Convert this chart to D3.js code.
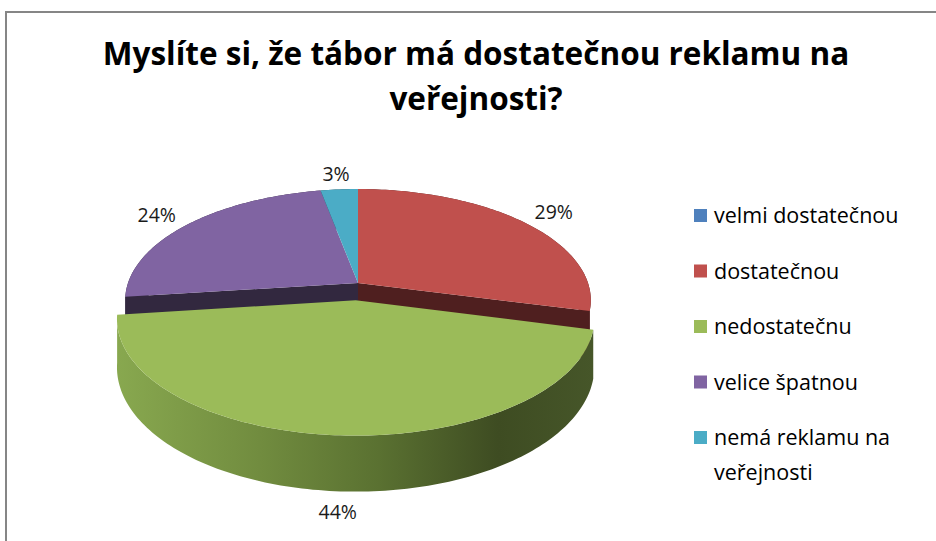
<!DOCTYPE html>
<html>
<head>
<meta charset="utf-8">
<script src="https://cdn.jsdelivr.net/npm/d3@7/dist/d3.min.js"></script>
<style>
  body { margin: 0; background: #fff; }
  svg { display: block; }
</style>
</head>
<body>
<div id="chart"></div>
<script>
// data
const categories = ['velmi dostatečnou', 'dostatečnou', 'nedostatečnu', 'velice špatnou', 'nemá reklamu na veřejnosti'];
const legendLines = [['velmi dostatečnou'], ['dostatečnou'], ['nedostatečnu'], ['velice špatnou'], ['nemá reklamu na', 'veřejnosti']];
const values = [0, 29, 44, 24, 3];
const titleLines = ['Myslíte si, že tábor má dostatečnou reklamu na', 'veřejnosti?'];

const colors = ['#4f81bd', '#c0504d', '#9bbb59', '#8064a2', '#4bacc6'];
const faceColors = ['#2a4566', '#4f1f1f', '#3f4c24', '#32283f', '#1f4a56'];
const explodedIndex = 2;

const W = 936, H = 541;
// pie geometry (simple perspective projection of a tilted disk)
const cx = 358, cy = 283;
const A = 230, B = 108.5, k = 0.155, depth = 46, explode = 0.155;

const svg = d3.select('#chart').append('svg')
    .attr('width', W)
    .attr('height', H);

const defs = svg.append('defs');

svg.append('rect')
    .attr('x', 6).attr('y', 12)
    .attr('width', 1200).attr('height', 1200)
    .attr('fill', '#fff')
    .attr('stroke', '#868686')
    .attr('stroke-width', 2);

// title
svg.append('g').selectAll('text')
    .data(titleLines)
    .enter().append('text')
    .attr('x', 476)
    .attr('y', (d, i) => 65 + i * 45)
    .attr('text-anchor', 'middle')
    .attr('font-family', '"Open Sans", sans-serif')
    .attr('font-weight', 700)
    .attr('font-size', 31.5)
    .attr('fill', '#000')
    .text(d => d);

function proj(a, r, off, h) {
    const u = off.u + r * Math.sin(a);
    const v = off.v - r * Math.cos(a);
    const s = 1 / (1 - k * v);
    return [cx + A * u * s, cy + B * v * s + h * depth * s];
}

const line = d3.line().curve(d3.curveLinearClosed);

const arcs = d3.pie().sort(null).value(d => d).startAngle(0).endAngle(2 * Math.PI)(values)
    .map((d, i) => {
        const mid = (d.startAngle + d.endAngle) / 2;
        const e = i === explodedIndex ? explode : 0;
        d.off = { u: e * Math.sin(mid), v: -e * Math.cos(mid) };
        d.mid = mid;
        d.index = i;
        return d;
    })
    .filter(d => d.value > 0);

function arcPoints(d, h) {
    const n = Math.max(2, Math.ceil((d.endAngle - d.startAngle) / 0.02));
    return d3.range(n + 1).map(j => proj(d.startAngle + (d.endAngle - d.startAngle) * j / n, 1, d.off, h));
}

function topPath(d) {
    return line([proj(0, 0, d.off, 0), ...arcPoints(d, 0)]);
}

function wallPath(d) {
    return line([...arcPoints(d, 0), ...arcPoints(d, 1).reverse()]);
}

function radialPath(d, a) {
    return line([proj(0, 0, d.off, 0), proj(a, 1, d.off, 0), proj(a, 1, d.off, 1), proj(0, 0, d.off, 1)]);
}

// a cut face only shows when it points towards the viewer
const facesFront = a => -Math.cos(a) > 0;

// gradient for the front wall of the pulled-out slice
const ex = arcs.find(d => d.index === explodedIndex);
const exPts = arcPoints(ex, 1);
const grad = defs.append('linearGradient')
    .attr('id', 'wallGrad')
    .attr('gradientUnits', 'userSpaceOnUse')
    .attr('x1', d3.min(exPts, p => p[0])).attr('y1', 0)
    .attr('x2', d3.max(exPts, p => p[0])).attr('y2', 0);
[[0, '#88a84f'], [0.3, '#718c3f'], [0.55, '#5a7131'], [0.8, '#3e4c22'], [1, '#465629']]
    .forEach(s => grad.append('stop').attr('offset', s[0]).attr('stop-color', s[1]));

const pieG = svg.append('g');
const back = arcs.filter(d => d.index !== explodedIndex);

// walls of the slices that stay in place
back.forEach(d => {
    pieG.append('path').attr('d', wallPath(d)).attr('fill', faceColors[d.index]);
});
back.forEach(d => {
    [d.startAngle, d.endAngle].filter(facesFront).forEach(a => {
        pieG.append('path').attr('d', radialPath(d, a)).attr('fill', faceColors[d.index]);
    });
});
back.forEach(d => {
    pieG.append('path').attr('d', topPath(d)).attr('fill', colors[d.index]);
});

// pulled-out slice drawn last
pieG.append('path').attr('d', wallPath(ex)).attr('fill', 'url(#wallGrad)');
pieG.append('path').attr('d', topPath(ex)).attr('fill', colors[ex.index]);

// percentage labels
const total = d3.sum(values);
svg.append('g').selectAll('text')
    .data(arcs)
    .enter().append('text')
    .attr('transform', d => {
        const front = -Math.cos(d.mid) > 0.5;
        const p = front ? proj(d.mid, 1, d.off, 1) : proj(d.mid, 1.2, { u: 0, v: 0 }, 0);
        return `translate(${p[0]},${p[1] + (front ? 20 : 0)})`;
    })
    .attr('text-anchor', 'middle')
    .attr('dominant-baseline', 'central')
    .attr('font-family', '"Open Sans", sans-serif')
    .attr('font-size', 19.5)
    .attr('fill', '#1a1a1a')
    .text(d => d3.format('.0%')(d.value / total));

// legend
const legend = svg.append('g').selectAll('g')
    .data(categories)
    .enter().append('g')
    .attr('transform', (d, i) => `translate(694,${216 + i * 55.5})`);

legend.append('rect')
    .attr('x', 0).attr('y', -7)
    .attr('width', 13).attr('height', 13)
    .attr('fill', (d, i) => colors[i]);

legend.append('text')
    .attr('x', 20)
    .attr('y', 7)
    .attr('font-family', '"Open Sans", sans-serif')
    .attr('font-size', 21.5)
    .attr('fill', '#000')
    .selectAll('tspan')
    .data((d, i) => legendLines[i])
    .enter().append('tspan')
    .attr('x', 20)
    .attr('dy', (d, j) => j === 0 ? 0 : 35)
    .text(d => d);
</script>
</body>
</html>
